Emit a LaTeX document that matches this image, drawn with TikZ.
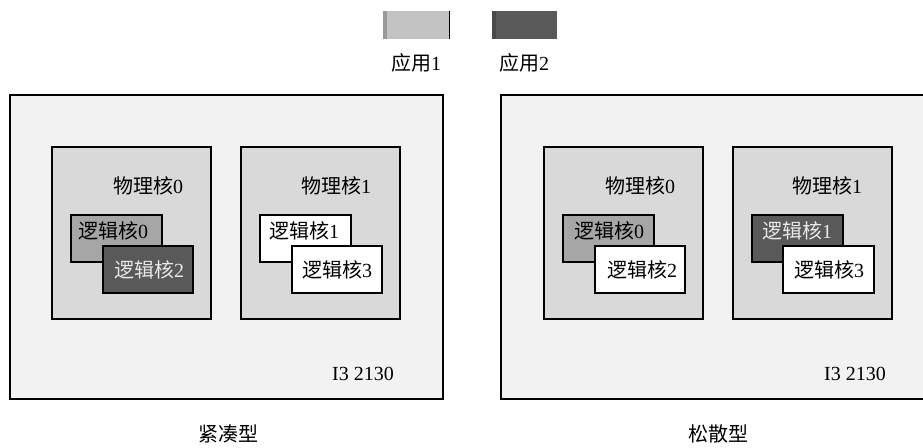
\documentclass[tikz,border=0pt]{standalone}
\usepackage{fontspec}
\setmainfont{Liberation Serif}
\newfontfamily\cjk{Noto Sans CJK SC}
\newcommand{\cjktext}[1]{{\cjk #1}}
\definecolor{outerbg}{HTML}{F2F2F2}
\definecolor{physbg}{HTML}{D9D9D9}
\definecolor{appone}{HTML}{A6A6A6}
\definecolor{apptwo}{HTML}{595959}
\definecolor{legone}{HTML}{C3C3C3}
\definecolor{legoneedge}{HTML}{9A9A9A}
\definecolor{legtwoedge}{HTML}{4A4A4A}
\definecolor{lighttext}{HTML}{E8E8E8}
\begin{document}
\begin{tikzpicture}[x=1pt,y=-1pt,
  every node/.style={inner sep=0pt, outer sep=0pt},
  box/.style={draw=black, line width=1.6pt, rectangle, anchor=north west},
  chip/.style={box, fill=outerbg, minimum width=#1, minimum height=304pt},
  phys/.style={box, fill=physbg, minimum width=159pt, minimum height=172pt},
  logic/.style={box, minimum width=91pt, minimum height=47pt},
  txt/.style={font=\fontsize{20}{20}\selectfont, text=black},
  lbl/.style={font=\fontsize{20}{20}\selectfont, text=black}
]
\useasboundingbox (0,0) rectangle (923,447);
\fill[white] (0,0) rectangle (923,447);

% legend
\node[anchor=north west, fill=legone, minimum width=66pt, minimum height=28pt] (leg1) at (383,11) {};
\fill[legoneedge] (leg1.north west) rectangle ([xshift=4pt]leg1.south west);
\draw[black, line width=1pt] (leg1.north east) -- (leg1.south east);
\node[anchor=north west, fill=apptwo, minimum width=65pt, minimum height=28pt] (leg2) at (492,11) {};
\fill[legtwoedge] (leg2.north west) rectangle ([xshift=4pt]leg2.south west);
\node[lbl] (leg1t) at (416,63) {\cjktext{应用}1};
\node[lbl] (leg2t) at (524,63) {\cjktext{应用}2};

% compact
\node[chip=433pt] (chipA) at (10,95) {};
\node[phys] (pA0) at (52,147) {};
\node[phys] (pA1) at (241,147) {};
\node[txt] at (148,186) {\cjktext{物理核}0};
\node[txt] at (336,186) {\cjktext{物理核}1};
\node[logic, fill=appone] (lA0) at (71,215) {};
\node[txt, anchor=center] at (113,231) {\cjktext{逻辑核}0};
\node[logic, fill=apptwo, minimum width=90pt] (lA2) at (103,246) {};
\node[txt, text=lighttext] at (149,270) {\cjktext{逻辑核}2};
\node[logic, fill=white] (lA1) at (260,215) {};
\node[txt] at (304,231) {\cjktext{逻辑核}1};
\node[logic, fill=white, minimum width=90pt] (lA3) at (292,246) {};
\node[txt] at (337,270) {\cjktext{逻辑核}3};
\node[txt] at (363,374) {I3 2130};
\node[lbl] at (228,434) {\cjktext{紧凑型}};

% loose
\node[chip=440pt] (chipB) at (501,95) {};
\node[phys] (pB0) at (544,147) {};
\node[phys] (pB1) at (733,147) {};
\node[txt] at (640,186) {\cjktext{物理核}0};
\node[txt] at (827,186) {\cjktext{物理核}1};
\node[logic, fill=appone] (lB0) at (563,215) {};
\node[txt] at (609,231) {\cjktext{逻辑核}0};
\node[logic, fill=white, minimum width=90pt] (lB2) at (595,246) {};
\node[txt] at (642,270) {\cjktext{逻辑核}2};
\node[logic, fill=apptwo] (lB1) at (752,215) {};
\node[txt, text=lighttext] at (797,231) {\cjktext{逻辑核}1};
\node[logic, fill=white, minimum width=91pt] (lB3) at (783,246) {};
\node[txt] at (829,270) {\cjktext{逻辑核}3};
\node[txt] at (855,374) {I3 2130};
\node[lbl] at (718,434) {\cjktext{松散型}};
\end{tikzpicture}
\end{document}
